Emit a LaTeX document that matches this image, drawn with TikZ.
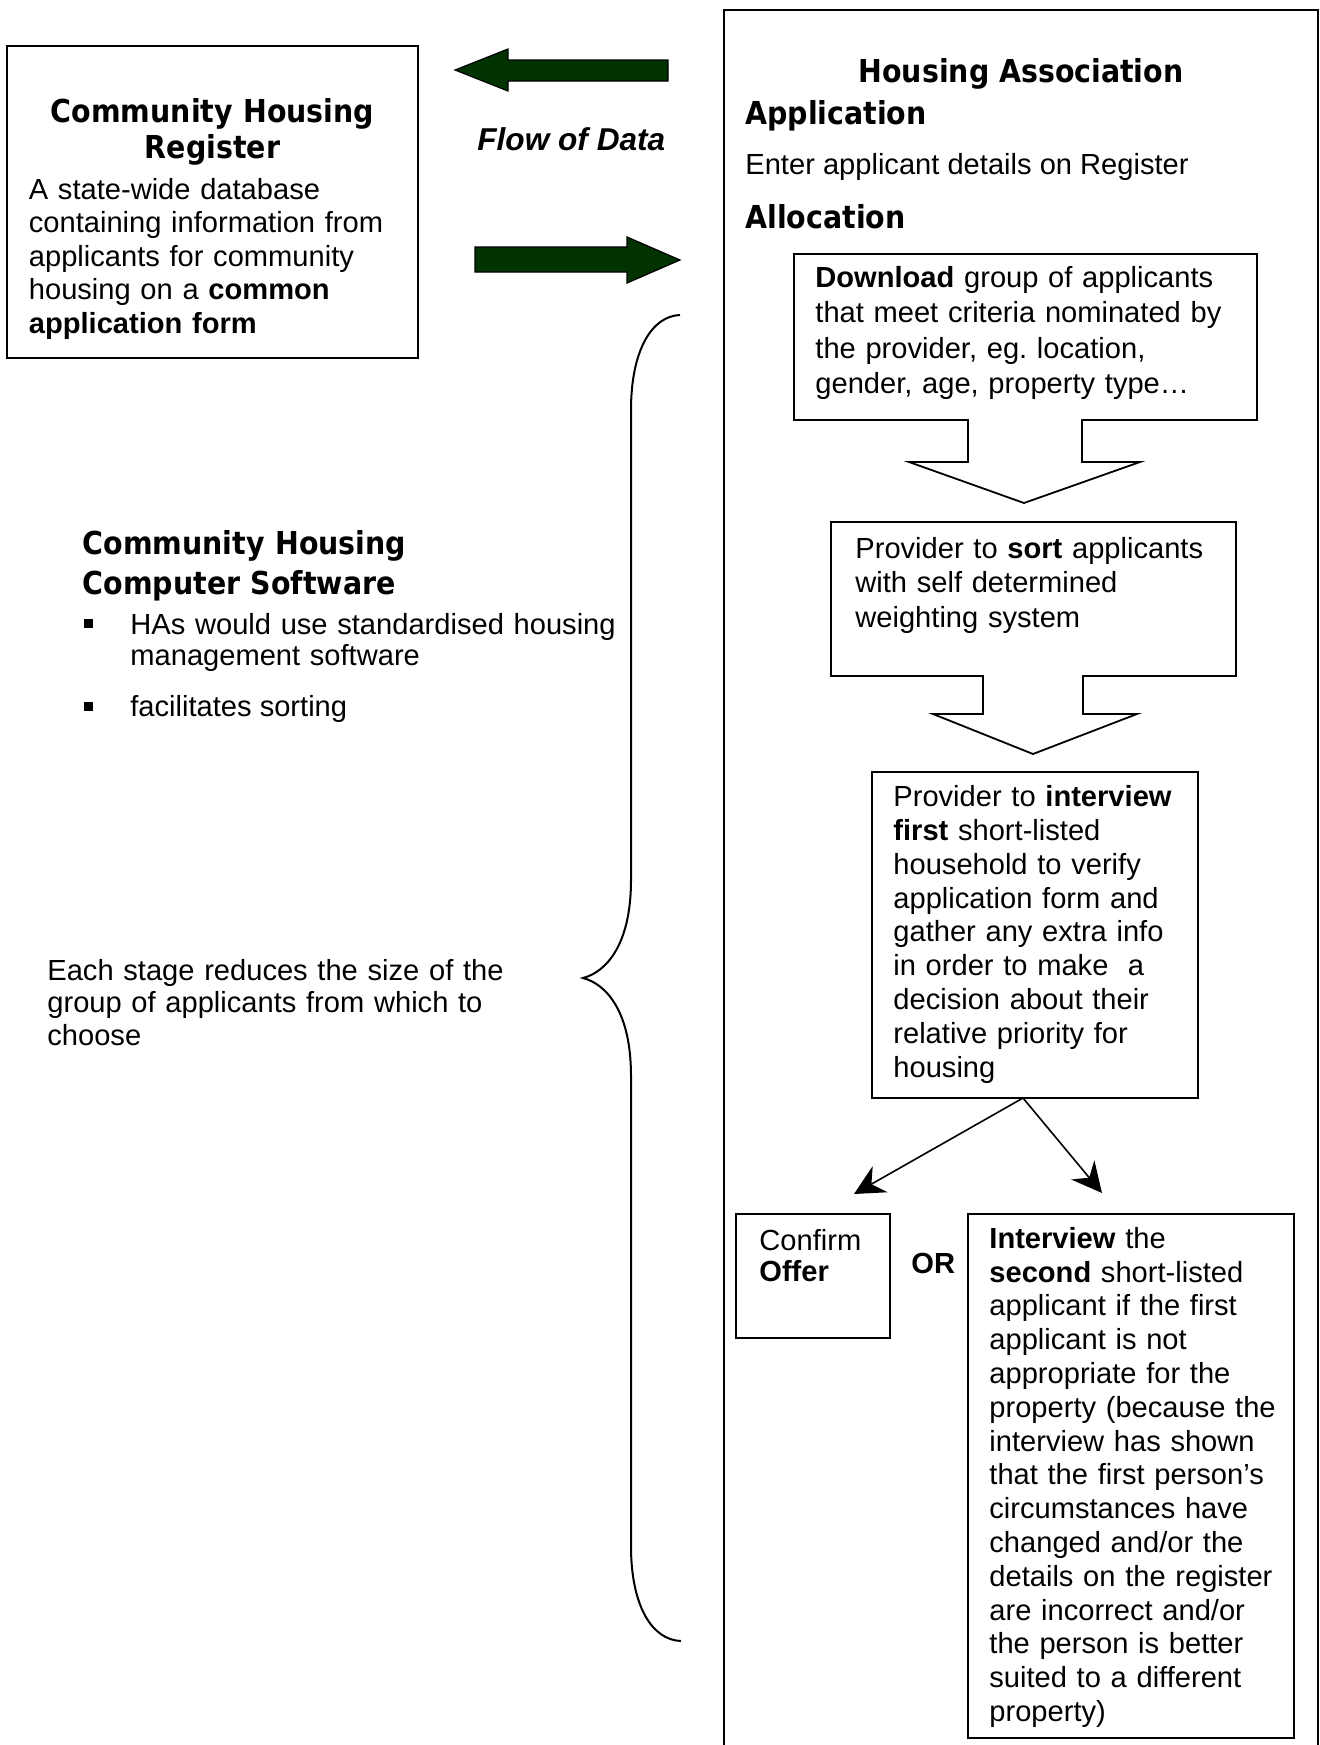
\documentclass[tikz,border=0pt]{standalone}
\usepackage{fontspec}
\setmainfont{Liberation Sans}
\newcommand\tsize{14.2pt}
\IfFontExistsTF{DejaVu Sans Condensed}{%
  \newfontfamily\tfont{DejaVu Sans Condensed}\renewcommand\tsize{15.8pt}}{%
  \newfontfamily\tfont{DejaVu Sans}}
\usetikzlibrary{arrows.meta}
\definecolor{dgreen}{RGB}{0,51,0}
\frenchspacing
\begin{document}
\frenchspacing
\begin{tikzpicture}[x=0.5pt,y=-0.5pt,
  box/.style={draw, line width=1pt, inner sep=0pt, rectangle},
  txt/.style={inner sep=0pt, anchor=north west, align=left, text width=330pt,
              font=\fontsize{14.55pt}{#1}\selectfont},
  one/.style={inner sep=0pt, anchor=base west, font=\fontsize{14.55pt}{17pt}\selectfont},
  ttl/.style={inner sep=0pt, font=\tfont\bfseries\fontsize{\tsize}{#1}\selectfont},
  greenarrow/.style={fill=dgreen, draw=black, line width=0.6pt, line join=miter},
  blockarrow/.style={draw=black, line width=0.9pt, line join=miter},
  splitarrow/.style={line width=0.8pt, -{Stealth[length=15pt,width=15pt,inset=5pt]}},
  bracestyle/.style={line width=1pt}]
\useasboundingbox (0,0) rectangle (1319,1745);

% ---------- left register box ----------
\node[box, minimum width=205.5pt, minimum height=156pt] (reg) at (212.5,202) {};
\node[ttl=18pt, anchor=north, align=center, text width=200pt] (regtitle) at (212.5,96.8)
  {\strut Community Housing\\Register};
\node[txt=16.75pt] (regbody) at (28.5,175.5)
  {\strut A state-wide database\\containing information from\\applicants for community\\housing on a \textbf{common}\\\textbf{application form}};

% ---------- flow of data arrows ----------
\draw[greenarrow] (455,70) -- (508,49) -- (508,60) -- (668,60) -- (668,81) -- (508,81) -- (508,91) -- cycle;
\draw[greenarrow] (680,260) -- (627,237) -- (627,247) -- (475,247) -- (475,272) -- (627,272) -- (627,283) -- cycle;
\node[inner sep=0pt, anchor=base west, font=\fontsize{15.8pt}{18pt}\selectfont\bfseries\itshape] (flow) at (477,150) {Flow of Data};

% ---------- housing association frame ----------
\draw[line width=1.2pt] (724,1760) -- (724,10) -- (1318,10) -- (1318,1760);
\node[ttl=18pt, anchor=base] (hatitle) at (1021,82) {Housing Association};
\node[ttl=18pt, anchor=base west] (appl) at (745,124) {Application};
\node[one] (enter) at (745,174) {Enter applicant details on Register};
\node[ttl=18pt, anchor=base west] (alloc) at (745,228) {Allocation};

% ---------- process boxes ----------
\node[box, minimum width=231.5pt, minimum height=83pt] (dl) at (1025,337) {};
\node[txt=17.65pt] (dltext) at (815,262.3)
  {\strut\textbf{Download} group of applicants\\that meet criteria nominated by\\the provider, eg. location,\\gender, age, property type\ldots};

\node[box, minimum width=202.5pt, minimum height=76.75pt] (srt) at (1033.5,598.75) {};
\node[txt=17.25pt] (srttext) at (855,533.9)
  {\strut Provider to \textbf{sort} applicants\\with self determined\\weighting system};

\node[box, minimum width=163pt, minimum height=163pt] (intv) at (1035,935) {};
\node[txt=16.94pt] (intvtext) at (893,782.3)
  {\strut Provider to \textbf{interview}\\\textbf{first} short-listed\\household to verify\\application form and\\gather any extra info\\in order to make~ a\\decision about their\\relative priority for\\housing};

\node[box, minimum width=77pt, minimum height=62pt] (conf) at (812.5,1276) {};
\node[txt=15.5pt] (conftext) at (759,1228.3) {\strut Confirm\\\textbf{Offer}};

\node[one, font=\fontsize{14.55pt}{17pt}\selectfont\bfseries] (or) at (911,1273) {OR};

\node[box, minimum width=163.15pt, minimum height=262pt] (sec) at (1130.85,1476) {};
\node[txt=16.9pt] (sectext) at (989,1224.3)
  {\strut\textbf{Interview} the\\\textbf{second} short-listed\\applicant if the first\\applicant is not\\appropriate for the\\property (because the\\interview has shown\\that the first person’s\\circumstances have\\changed and/or the\\details on the register\\are incorrect and/or\\the person is better\\suited to a different\\property)};

% ---------- block arrows between boxes ----------
\fill[white] (969,416) -- (969,462) -- (909,462) -- (1024,503) -- (1140,462) -- (1081,462) -- (1081,416) -- cycle;
\draw[blockarrow] (968,420) -- (968,462) -- (909,462) -- (1024,503) -- (1140,462) -- (1082,462) -- (1082,420);
\fill[white] (984,671.5) -- (984,714) -- (933,714) -- (1033,754) -- (1137,714) -- (1082,714) -- (1082,671.5) -- cycle;
\draw[blockarrow] (983,675.5) -- (983,714) -- (933,714) -- (1033,754) -- (1137,714) -- (1083,714) -- (1083,675.5);

% ---------- split arrows ----------
\coordinate (split) at (1023,1098);
\coordinate (tipL) at (854,1194);
\coordinate (tipR) at (1102,1193);
\draw[splitarrow] (split) -- (tipL);
\draw[splitarrow] (split) -- (tipR);

% ---------- left side texts ----------
\node[ttl=20pt, anchor=north west, align=left, text width=300pt] (chcs) at (82.4,525.6)
  {\strut Community Housing\\Computer Software};
\node[fill=black, inner sep=0pt, minimum size=4.4pt] (b1) at (88.75,623.4) {};
\node[fill=black, inner sep=0pt, minimum size=4.4pt] (b2) at (88.75,706.7) {};
\node[txt=15.5pt] (b1text) at (130,612.3) {\strut HAs would use standardised housing\\management software};
\node[one] (b2text) at (130,716) {facilitates sorting};

\node[txt=16.25pt] (each) at (47,957.25)
  {\strut Each stage reduces the size of the\\group of applicants from which to\\choose};

% ---------- brace ----------
\draw[bracestyle] (680,315) .. controls (652,316) and (631,350) .. (631,410)
  -- (631,880) .. controls (631,945) and (606,972) .. (583,978)
  .. controls (606,984) and (631,1011) .. (631,1076)
  -- (631,1546) .. controls (631,1606) and (652,1640) .. (681,1641);
\end{tikzpicture}
\end{document}
